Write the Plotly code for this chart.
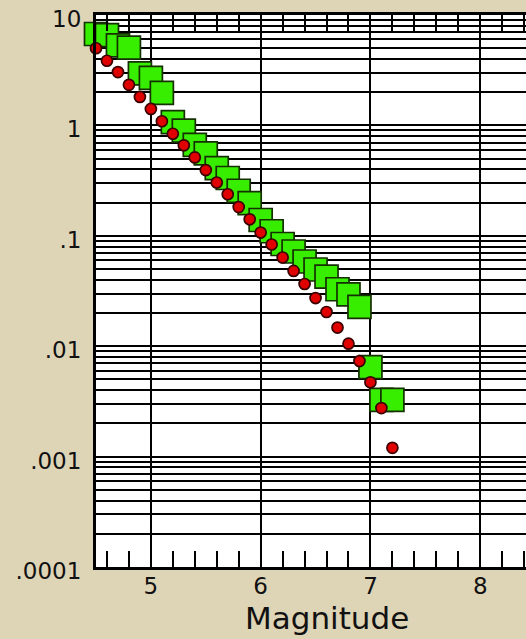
import plotly.graph_objects as go

magnitude = [4.5, 4.6, 4.7, 4.8, 4.9, 5.0, 5.1, 5.2, 5.3, 5.4, 5.5, 5.6, 5.7, 5.8,
             5.9, 6.0, 6.1, 6.2, 6.3, 6.4, 6.5, 6.6, 6.7, 6.8, 6.9, 7.0, 7.1, 7.2]

observed = [6.73, 6.56, 5.31, 5.06, 2.96, 2.69, 1.97, 1.07, 0.897, 0.665, 0.557, 0.41,
            0.334, 0.256, 0.198, 0.139, 0.110, 0.0843, 0.0721, 0.0585, 0.0495, 0.0426,
            0.0328, 0.0295, 0.0227, 0.00647, 0.00327, 0.00327]

model = [5.0, 3.85, 3.04, 2.33, 1.81, 1.41, 1.09, 0.84, 0.66, 0.513, 0.394, 0.304,
         0.238, 0.182, 0.141, 0.107, 0.0834, 0.0636, 0.0481, 0.0366, 0.0273, 0.0204,
         0.01475, 0.01054, 0.00734, 0.00471, 0.00275, 0.00120]

decade_vals = [0.0001, 0.001, 0.01, 0.1, 1, 10]
decade_labels = [".0001", ".001", ".01", ".1", "1", "10"]
x_tickvals = [5, 6, 7, 8]
x_title = "Magnitude"

# y grid at every 1..9 x 10^n, labels only at decades
y_tickvals = []
y_ticktext = []
for i, d in enumerate(decade_vals):
    for k in range(1, 10):
        v = d * k
        if v > 10 * 1.0001:
            break
        y_tickvals.append(v)
        y_ticktext.append(decade_labels[i] if k == 1 else "")

FONT = "DejaVu Sans"
BG = "#DED4B6"

fig = go.Figure()
fig.add_trace(go.Scatter(
    x=magnitude, y=observed, mode="markers", cliponaxis=False,
    marker=dict(symbol="square", size=23, color="#38EE00",
                line=dict(color="#143000", width=1.7)),
    showlegend=False))
fig.add_trace(go.Scatter(
    x=magnitude, y=model, mode="markers", cliponaxis=False,
    marker=dict(symbol="circle", size=11, color="#E00000",
                line=dict(color="#3A0000", width=1.7)),
    showlegend=False))

fig.add_annotation(text=x_title, x=6.6, xref="x", y=-0.092, yref="paper",
                   showarrow=False, yanchor="middle", xanchor="center",
                   font=dict(family=FONT, size=31, color="#111111"))

fig.update_layout(
    width=526, height=639,
    margin=dict(l=96, r=0, t=15, b=72, autoexpand=False),
    paper_bgcolor=BG, plot_bgcolor="white",
    font=dict(family=FONT, size=23, color="#111111"),
    xaxis=dict(range=[4.5, 8.417], tickvals=x_tickvals,
               showgrid=True, gridcolor="black", gridwidth=2,
               zeroline=False, showline=True, linecolor="black", linewidth=3,
               mirror="allticks", ticks="inside", ticklen=16, tickwidth=2,
               tickcolor="black", ticklabelstandoff=-4, ticklabeloverflow="allow",
               minor=dict(dtick=0.2, tick0=0, ticks="inside", ticklen=16,
                          tickwidth=2, tickcolor="black", showgrid=False),
               tickfont=dict(family=FONT, size=23)),
    yaxis=dict(type="log", range=[-4, 1], tickvals=y_tickvals, ticktext=y_ticktext,
               showgrid=True, gridcolor="black", gridwidth=2,
               zeroline=False, showline=True, linecolor="black", linewidth=3,
               ticks="", ticklabelstandoff=7, ticklabelshift=4,
               ticklabeloverflow="allow",
               tickfont=dict(family=FONT, size=23)),
)

fig.write_html(
    "out.html",
    config={"displayModeBar": False},
    post_script=("document.body.style.margin='0';"
                 "document.body.style.padding='0';"
                 "document.body.style.overflow='hidden';"
                 "document.body.style.background='" + BG + "';"),
)
